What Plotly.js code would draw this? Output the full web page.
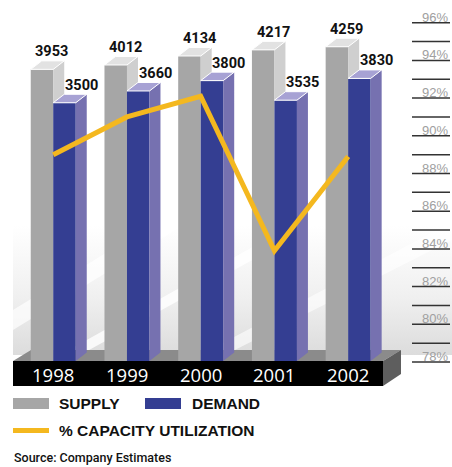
<!DOCTYPE html>
<html><head><meta charset="utf-8">
<script src="https://cdn.plot.ly/plotly-3.0.1.min.js"></script>
<style>html,body{margin:0;padding:0;background:#fff}#chart{width:452px;height:467px}</style>
</head><body><div id="chart"></div>
<script>
// ---- data ----
const years = ['1998', '1999', '2000', '2001', '2002'];
const supply = [3953, 4012, 4134, 4217, 4259];
const demand = [3500, 3660, 3800, 3535, 3830];
const utilization = [89.0, 91.0, 92.1, 83.9, 88.9];
const pctTicks = [78, 79, 80, 81, 82, 83, 84, 85, 86, 87, 88, 89, 90, 91, 92, 93, 94, 95, 96];
const pctLabelTicks = [78, 80, 82, 84, 86, 88, 90, 92, 94, 96];
const legendLabels = ['SUPPLY', 'DEMAND', '% CAPACITY UTILIZATION'];
const sourceText = 'Source: Company Estimates';

// ---- geometry / style ----
const W = 452, H = 467;
const pxPerCat = 73.73;
const pxPerUnit = 0.07378;
const xRange = [-53.24 / pxPerCat, (W - 53.24) / pxPerCat];
const yRange = [(361 - H) / pxPerUnit, 361 / pxPerUnit];
const pctPx = (362 - 22.7) / 18;
const y3Range = [78 - (H - 362) / pctPx, 96 + 22.7 / pctPx];
const barW = 22.5 / pxPerCat;
const dX = 11 / pxPerCat, dY = 8.5 / pxPerUnit;
const idx = years.map((_, i) => i);
const C = {
  sFront: '#a6a6a6', sSide: '#cfcfcf', sTop: '#e2e2e2',
  dFront: '#343e92', dSide: '#7671b0', dTop: '#a7a2d4',
  line: '#f4b81f'
};
const px = x => x / W, py = y => 1 - y / H;

function faces(vals, off) {
  const top = {x: [], y: []}, side = {x: [], y: []};
  vals.forEach((v, i) => {
    const b0 = i + off, b1 = b0 + barW;
    top.x.push(b0, b1, b1 + dX, b0 + dX, b0, null);
    top.y.push(v, v, v + dY, v + dY, v, null);
    side.x.push(b1, b1, b1 + dX, b1 + dX, b1, null);
    side.y.push(0, v, v + dY, dY, 0, null);
  });
  return {top, side};
}
const sF = faces(supply, -barW), dF = faces(demand, 0);

function poly(f, color, ya, edge) {
  return {type: 'scatter', mode: 'lines', x: f.x, y: f.y, yaxis: ya, fill: 'toself',
    fillcolor: color, line: {color: edge || color, width: edge ? 1 : 0}, hoverinfo: 'skip', showlegend: false};
}

const traces = [
  {type: 'bar', x: idx, y: supply, width: barW, offset: -barW, yaxis: 'y',
   marker: {color: C.sFront, line: {width: 0}}, hoverinfo: 'skip', showlegend: false},
  poly(sF.side, C.sSide, 'y'),
  poly(sF.top, C.sTop, 'y', '#ffffff'),
  {type: 'bar', x: idx, y: demand, width: barW, offset: 0, yaxis: 'y2',
   marker: {color: C.dFront, line: {width: 0}}, hoverinfo: 'skip', showlegend: false},
  poly(dF.side, C.dSide, 'y2'),
  poly(dF.top, C.dTop, 'y2', '#ffffff'),
  {type: 'scatter', mode: 'lines', x: idx, y: utilization, yaxis: 'y3',
   line: {color: C.line, width: 5}, hoverinfo: 'skip', showlegend: false}
];

const hidden = {showgrid: false, zeroline: false, showticklabels: false, ticks: '', showline: false, fixedrange: true};

// soft backdrop sheen (decorative)
const bgSvg = `<svg xmlns="http://www.w3.org/2000/svg" width="452" height="467" viewBox="0 0 452 467">
<defs>
<linearGradient id="g" x1="0" y1="0" x2="0" y2="1">
<stop offset="0" stop-color="#ffffff"/><stop offset="0.45" stop-color="#ffffff"/>
<stop offset="0.75" stop-color="#f0f0f0"/><stop offset="1" stop-color="#dcdcdc"/></linearGradient>
</defs>
<rect x="13" y="120" width="439" height="235" fill="url(#g)"/>
<polygon points="13,330 13,310 452,40 452,60" fill="#ffffff" opacity="0.7"/>
<polygon points="60,355 80,355 452,150 452,135" fill="#ffffff" opacity="0.8"/>
<polygon points="200,355 225,355 452,240 452,222" fill="#ffffff" opacity="0.6"/>
</svg>`;

const shapes = [
  {type: 'path', xref: 'paper', yref: 'paper', layer: 'below',
   path: `M${px(13)},${py(361)} L${px(31)},${py(350)} L${px(401)},${py(350)} L${px(383)},${py(361)} Z`,
   fillcolor: '#8b8b8b', line: {width: 0}},
  {type: 'rect', xref: 'paper', yref: 'paper', layer: 'above',
   x0: px(13), x1: px(383), y0: py(386), y1: py(361), fillcolor: '#000000', line: {width: 0}},
  {type: 'path', xref: 'paper', yref: 'paper', layer: 'above',
   path: `M${px(383)},${py(361)} L${px(401)},${py(350)} L${px(401)},${py(374)} L${px(383)},${py(386)} Z`,
   fillcolor: '#5e5e5e', line: {width: 0}},
  {type: 'rect', xref: 'paper', yref: 'paper', x0: px(13), x1: px(49), y0: py(409), y1: py(398),
   fillcolor: C.sFront, line: {width: 0}},
  {type: 'rect', xref: 'paper', yref: 'paper', x0: px(145), x1: px(181), y0: py(409), y1: py(398),
   fillcolor: C.dFront, line: {width: 0}},
  {type: 'rect', xref: 'paper', yref: 'paper', x0: px(13), x1: px(49), y0: py(433), y1: py(428),
   fillcolor: C.line, line: {width: 0}}
];
pctTicks.forEach(t => shapes.push({type: 'line', xref: 'paper', yref: 'y3', x0: px(412), x1: px(450),
  y0: t, y1: t, line: {color: '#333333', width: 1.5}}));

const numFont = {family: 'Roboto, Liberation Sans, sans-serif', size: 14.5, color: '#111111', weight: 700};
const annotations = [];
supply.forEach((v, i) => annotations.push({xref: 'x', yref: 'y', x: i - barW / 2 + 10 / pxPerCat, y: v, yshift: 17.5,
  text: String(v), showarrow: false, xanchor: 'center', yanchor: 'middle', font: numFont}));
demand.forEach((v, i) => annotations.push({xref: 'x', yref: 'y2', x: i + barW / 2 + 17 / pxPerCat, y: v, yshift: 17.5,
  text: String(v), showarrow: false, xanchor: 'center', yanchor: 'middle', font: numFont}));
years.forEach((t, i) => annotations.push({xref: 'x', yref: 'paper', x: i, y: py(374), text: t, showarrow: false,
  xanchor: 'center', yanchor: 'middle',
  font: {family: 'Open Sans, Roboto, sans-serif', size: 18.5, color: '#ffffff'}}));
pctLabelTicks.forEach(t => annotations.push({xref: 'paper', yref: 'y3', x: px(450), y: t, text: t + '%',
  showarrow: false, xanchor: 'right', yanchor: 'bottom', yshift: -4,
  font: {family: 'Liberation Sans, Arial, sans-serif', size: 13, color: '#a0a0a0'}}));
const legFont = {family: 'Liberation Sans, Arial, sans-serif', size: 15.5, color: '#111111', weight: 700};
annotations.push({xref: 'paper', yref: 'paper', x: px(57), y: py(403.5), text: legendLabels[0], showarrow: false,
  xanchor: 'left', yanchor: 'middle', font: legFont});
annotations.push({xref: 'paper', yref: 'paper', x: px(190), y: py(403.5), text: legendLabels[1], showarrow: false,
  xanchor: 'left', yanchor: 'middle', font: legFont});
annotations.push({xref: 'paper', yref: 'paper', x: px(57), y: py(430.5), text: legendLabels[2], showarrow: false,
  xanchor: 'left', yanchor: 'middle', font: legFont});
annotations.push({xref: 'paper', yref: 'paper', x: px(12), y: py(457.5), text: sourceText, showarrow: false,
  xanchor: 'left', yanchor: 'middle',
  font: {family: 'Roboto, sans-serif', size: 12.5, color: '#111111', weight: 500}});

const layout = {
  width: W, height: H, margin: {l: 0, r: 0, t: 0, b: 0, pad: 0},
  paper_bgcolor: '#ffffff', plot_bgcolor: 'rgba(0,0,0,0)',
  showlegend: false, hovermode: false, barmode: 'overlay',
  xaxis: Object.assign({range: xRange}, hidden),
  yaxis: Object.assign({range: yRange}, hidden),
  yaxis2: Object.assign({range: yRange, overlaying: 'y'}, hidden),
  yaxis3: Object.assign({range: y3Range, overlaying: 'y'}, hidden),
  images: [{source: 'data:image/svg+xml;charset=utf-8,' + encodeURIComponent(bgSvg),
    xref: 'paper', yref: 'paper', x: 0, y: 1, sizex: 1, sizey: 1, xanchor: 'left', yanchor: 'top',
    sizing: 'stretch', layer: 'below'}],
  shapes, annotations
};
Plotly.newPlot('chart', traces, layout, {displayModeBar: false, staticPlot: true});
</script></body></html>
